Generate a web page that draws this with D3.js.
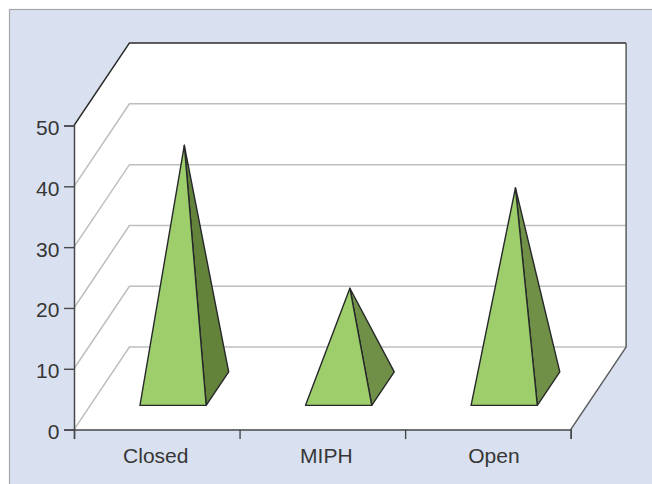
<!DOCTYPE html>
<html>
<head>
<meta charset="utf-8">
<script src="https://cdn.jsdelivr.net/npm/d3@7"></script>
<style>
  html, body { margin: 0; padding: 0; background: #fff; overflow: hidden; }
  svg { display: block; }
  text { font-family: "Liberation Sans", Arial, sans-serif; font-size: 21px; fill: #363636; }
</style>
</head>
<body>
<div id="chart"></div>
<script>
const categories = ["Closed", "MIPH", "Open"];
const values = [40, 16.5, 33];
const yTicks = [0, 10, 20, 30, 40, 50];

const chartW = 652, chartH = 484;

// plot box
const plotLeft = 74, plotRight = 570.7, plotBottom = 429.6, plotTop = 125.5;
const depthX = 55.4, depthY = -82.5;

const svg = d3.select("#chart").append("svg")
  .attr("width", chartW)
  .attr("height", chartH);

const x = d3.scaleBand()
  .domain(categories)
  .range([plotLeft, plotRight])
  .paddingInner(0.6)
  .paddingOuter(0.3);

const y = d3.scaleLinear().domain([0, 50]).range([plotBottom, plotTop]);

// depth goes 0 at the front of the floor to 1 at the back wall
const zx = d3.scaleLinear().domain([0, 1]).range([0, depthX]);
const zy = d3.scaleLinear().domain([0, 1]).range([0, depthY]);
const baseFront = 0.294, baseBack = 0.70, baseMid = (baseFront + baseBack) / 2;

// panel
svg.append("rect")
  .attr("x", 9.5)
  .attr("y", 9.5)
  .attr("width", chartW)
  .attr("height", chartH)
  .attr("fill", "#d9e1f0")
  .attr("stroke", "#a3a5a8")
  .attr("stroke-width", 1.2);

// white wall and floor
const outline = [
  [plotLeft, y(50)], [plotLeft + depthX, y(50) + depthY], [plotRight + depthX, y(50) + depthY],
  [plotRight + depthX, y(0) + depthY], [plotRight, y(0)], [plotLeft, y(0)]
];
svg.append("polygon")
  .attr("points", outline.join(" "))
  .attr("fill", "#fff");

// gridlines, running up the side wall and along the back
const grid = svg.append("g");
grid.selectAll("polyline")
  .data(yTicks.slice(0, -1))
  .enter().append("polyline")
  .attr("points", d => [
    [plotLeft, y(d)], [plotLeft + depthX, y(d) + depthY], [plotRight + depthX, y(d) + depthY]
  ].join(" "))
  .attr("fill", "none")
  .attr("stroke", "#bdbec0")
  .attr("stroke-width", 1.5);

// dark edges of the box
svg.append("polyline")
  .attr("points", [
    [plotLeft, y(50)], [plotLeft + depthX, y(50) + depthY], [plotRight + depthX, y(50) + depthY]
  ].join(" "))
  .attr("fill", "none")
  .attr("stroke", "#2b2b2b")
  .attr("stroke-width", 1.4);

svg.append("polyline")
  .attr("points", [
    [plotRight + depthX, y(50) + depthY], [plotRight + depthX, y(0) + depthY], [plotRight, y(0)]
  ].join(" "))
  .attr("fill", "none")
  .attr("stroke", "#5c5c5e")
  .attr("stroke-width", 1.5);

// pyramids
const sideColors = ["#63823a", "#6f9046", "#6f9046"];

const pyramids = svg.selectAll(".pyramid")
  .data(categories.map((c, i) => ({ category: c, value: values[i], side: sideColors[i] })))
  .enter().append("g")
  .attr("class", "pyramid");

const frontLeft = d => [x(d.category) + zx(baseFront), y(0) + zy(baseFront)];
const frontRight = d => [x(d.category) + x.bandwidth() + zx(baseFront), y(0) + zy(baseFront)];
const backRight = d => [x(d.category) + x.bandwidth() + zx(baseBack), y(0) + zy(baseBack)];
const apex = d => [x(d.category) + x.bandwidth() / 2 + zx(baseMid), y(d.value) + zy(baseMid)];

pyramids.append("polygon")
  .attr("points", d => [frontRight(d), backRight(d), apex(d)].join(" "))
  .attr("fill", d => d.side)
  .attr("stroke", "#26282a")
  .attr("stroke-width", 1.4)
  .attr("stroke-linejoin", "round");

pyramids.append("polygon")
  .attr("points", d => [frontLeft(d), frontRight(d), apex(d)].join(" "))
  .attr("fill", "#9ecd6c")
  .attr("stroke", "#26282a")
  .attr("stroke-width", 1.4)
  .attr("stroke-linejoin", "round");

// y axis
const yAxis = svg.append("g")
  .attr("transform", `translate(${plotLeft},0)`)
  .call(d3.axisLeft(y).tickValues(yTicks).tickSize(10).tickPadding(4.7));
yAxis.selectAll("text").attr("dy", "0.38em").attr("transform", "translate(0,1)");

// x axis: ticks sit on the band edges, labels in the middle of each band
const xEdges = d3.scaleLinear().domain([0, categories.length]).range([plotLeft, plotRight]);

const xTicks = svg.append("g")
  .attr("transform", `translate(0,${plotBottom})`)
  .call(d3.axisBottom(xEdges).tickValues(d3.range(categories.length + 1)).tickFormat("").tickSize(9.5));

const xLabels = svg.append("g")
  .attr("transform", `translate(0,${plotBottom})`)
  .call(d3.axisBottom(x).tickSize(0).tickPadding(18.4));
xLabels.select(".domain").remove();

// the labels are not quite centred in the original
const labelNudge = [-1, 4, 6];
xLabels.selectAll("text").attr("dx", (d, i) => labelNudge[i]);

[yAxis, xTicks].forEach(g => {
  g.select(".domain").attr("stroke", "#47484a").attr("stroke-width", 1.5);
  g.selectAll(".tick line").attr("stroke", "#47484a").attr("stroke-width", 1.4);
});

svg.selectAll(".tick text").attr("fill", null);
[yAxis, xTicks, xLabels].forEach(g => g.attr("font-size", null).attr("font-family", null));
</script>
</body>
</html>
